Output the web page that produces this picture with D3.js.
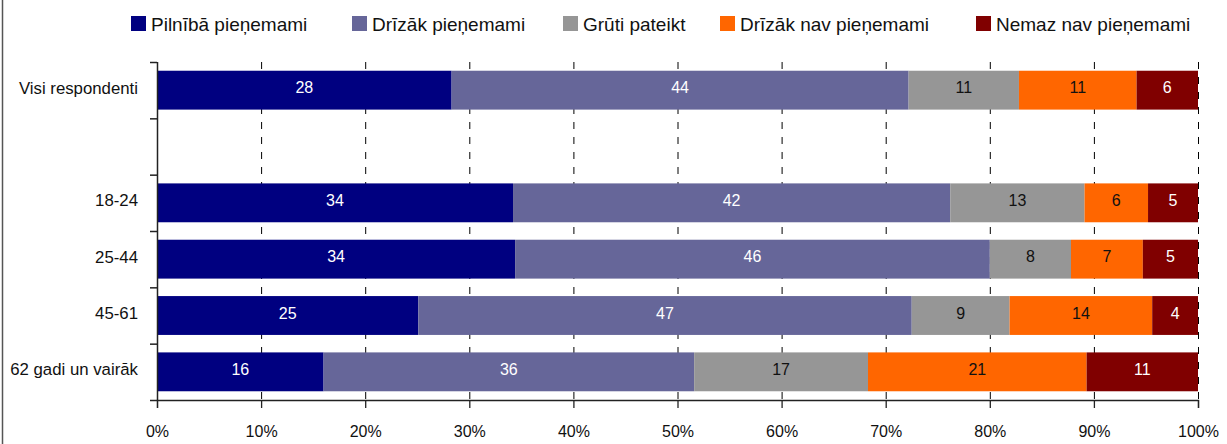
<!DOCTYPE html>
<html>
<head>
<meta charset="utf-8">
<script src="https://cdn.jsdelivr.net/npm/d3@7"></script>
<style>
  body { margin: 0; background: #fff; }
  svg { display: block; font-family: "Liberation Sans", Arial, sans-serif; }
</style>
</head>
<body>
<div id="chart"></div>
<script>
// rows of the chart, the second one is an empty spacer row
const categories = ["Visi respondenti", "", "18-24", "25-44", "45-61", "62 gadi un vairāk"];

const seriesNames = ["Pilnībā pieņemami", "Drīzāk pieņemami", "Grūti pateikt", "Drīzāk nav pieņemami", "Nemaz nav pieņemami"];
const seriesColors = ["#000080", "#666699", "#969696", "#FF6600", "#800000"];
const labelColors = ["#fff", "#fff", "#111", "#111", "#fff"];

// percentages per row (null = spacer)
const pilnibaPienemami   = [28.3, null, 34.2, 34.4, 25.1, 16.0];
const drizakPienemami    = [43.9, null, 42.0, 45.6, 47.4, 35.6];
const grutiPateikt       = [10.6, null, 12.9,  7.8,  9.4, 16.7];
const drizakNavPienemami = [11.3, null,  6.1,  6.9, 13.7, 21.0];
const nemazNavPienemami  = [ 5.9, null,  4.8,  5.3,  4.4, 10.7];

const xTicks = [0, 0.1, 0.2, 0.3, 0.4, 0.5, 0.6, 0.7, 0.8, 0.9, 1];

const W = 1227, H = 444;
const margin = { top: 62, right: 29, bottom: 44, left: 157 };
const innerW = W - margin.left - margin.right;
const innerH = H - margin.top - margin.bottom;

// where each legend entry starts (legend is spread over the top)
const legendX = [131, 352, 563, 720, 976];

const svg = d3.select("#chart").append("svg")
  .attr("width", W)
  .attr("height", H);

// left frame line
svg.append("line")
  .attr("x1", 2.5).attr("x2", 2.5)
  .attr("y1", 0).attr("y2", H)
  .attr("stroke", "#555").attr("stroke-width", 1.5);

const g = svg.append("g")
  .attr("transform", "translate(" + margin.left + "," + margin.top + ")");

const xScale = d3.scaleLinear().domain([0, 1]).range([0, innerW]);
const yScale = d3.scaleBand()
  .domain(categories.map((c, i) => i))
  .range([0, innerH])
  .paddingInner(0.31)
  .paddingOuter(0.155);

// build the table for d3.stack
const allSeries = [pilnibaPienemami, drizakPienemami, grutiPateikt, drizakNavPienemami, nemazNavPienemami];
const table = [];
categories.forEach((c, i) => {
  if (pilnibaPienemami[i] == null) return;
  let row = { idx: i };
  seriesNames.forEach((s, k) => { row[s] = allSeries[k][i] / 100; });
  table.push(row);
});
const stacked = d3.stack().keys(seriesNames)(table);

// dashed gridlines
g.selectAll(".grid")
  .data(xTicks.slice(1))
  .enter().append("line")
  .attr("class", "grid")
  .attr("x1", d => xScale(d) + 0.5).attr("x2", d => xScale(d) + 0.5)
  .attr("y1", 0).attr("y2", innerH)
  .attr("stroke", "#000")
  .attr("stroke-dasharray", "7,8");

// bars
const layers = g.selectAll(".layer")
  .data(stacked)
  .enter().append("g")
  .attr("class", "layer")
  .attr("fill", (d, i) => seriesColors[i]);

layers.selectAll("rect")
  .data(d => d)
  .enter().append("rect")
  .attr("x", d => xScale(d[0]))
  .attr("y", d => yScale(d.data.idx))
  .attr("width", d => xScale(d[1]) - xScale(d[0]))
  .attr("height", yScale.bandwidth());

// value labels
layers.each(function(layer, i) {
  d3.select(this).selectAll("text")
    .data(layer)
    .enter().append("text")
    .attr("x", d => (xScale(d[0]) + xScale(d[1])) / 2)
    .attr("y", d => yScale(d.data.idx) + yScale.bandwidth() / 2)
    .attr("dy", "0.2em")
    .attr("text-anchor", "middle")
    .attr("font-size", 16)
    .attr("fill", labelColors[i])
    .text(d => Math.round((d[1] - d[0]) * 100));
});

// category axis (ticks between rows)
const boundaries = d3.range(categories.length + 1).map(i => i * innerH / categories.length);
g.append("line")
  .attr("x1", 0.5).attr("x2", 0.5)
  .attr("y1", 0).attr("y2", innerH)
  .attr("stroke", "#222").attr("stroke-width", 1.5);
g.selectAll(".ytick")
  .data(boundaries)
  .enter().append("line")
  .attr("class", "ytick")
  .attr("x1", -7).attr("x2", 0)
  .attr("y1", d => d + 0.5).attr("y2", d => d + 0.5)
  .attr("stroke", "#222").attr("stroke-width", 1.5);
g.selectAll(".ylabel")
  .data(categories)
  .enter().append("text")
  .attr("class", "ylabel")
  .attr("x", -19)
  .attr("y", (d, i) => yScale(i) + yScale.bandwidth() / 2)
  .attr("dy", "0.2em")
  .attr("text-anchor", "end")
  .attr("font-size", 16.8)
  .attr("fill", "#111")
  .text(d => d);

// x axis
const xAxis = g.append("g")
  .attr("transform", "translate(0," + innerH + ")")
  .call(d3.axisBottom(xScale).tickValues(xTicks).tickFormat(d3.format(".0%")).tickSizeOuter(0).tickSize(8).tickPadding(18));
xAxis.select(".domain").attr("stroke", "#222").attr("stroke-width", 1.3);
xAxis.selectAll(".tick line").attr("stroke", "#222").attr("stroke-width", 1.3);
xAxis.selectAll("text")
  .attr("font-size", 16)
  .attr("font-family", "Liberation Sans, Arial, sans-serif")
  .attr("fill", "#111");

// legend
const legend = svg.append("g").attr("transform", "translate(0,16)");
seriesNames.forEach((name, i) => {
  const item = legend.append("g").attr("transform", "translate(" + legendX[i] + ",0)");
  item.append("rect")
    .attr("width", 15).attr("height", 15)
    .attr("fill", seriesColors[i]);
  item.append("text")
    .attr("x", 20).attr("y", 14.5)
    .attr("font-size", 19)
    .attr("fill", "#111")
    .text(name);
});
</script>
</body>
</html>
